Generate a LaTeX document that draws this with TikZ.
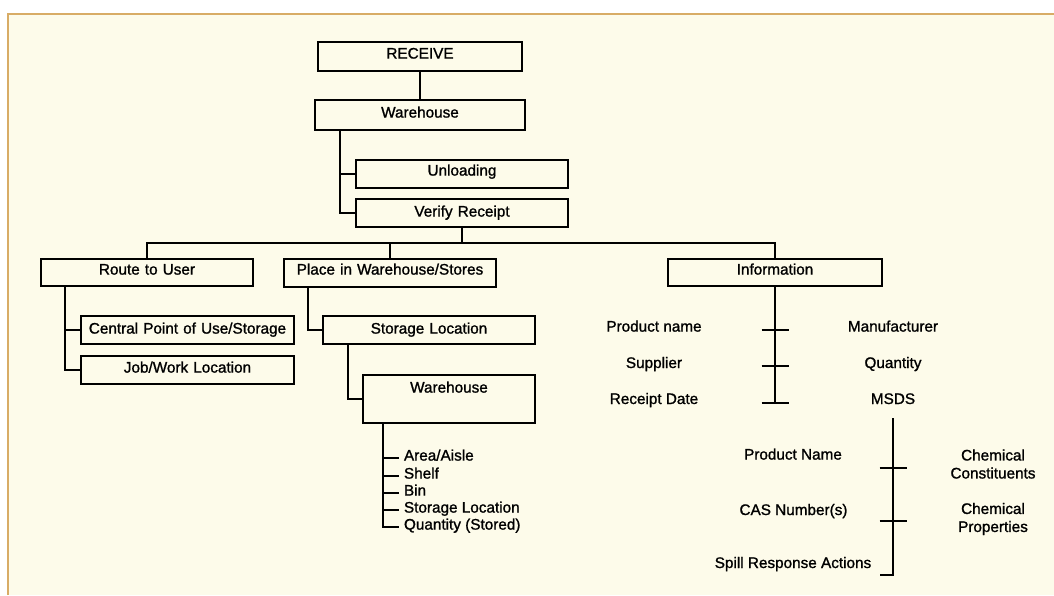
\documentclass[tikz,border=0pt]{standalone}
\usepackage{fontspec}
\setmainfont{Liberation Sans}[FakeBold=1.2]
\definecolor{bgc}{HTML}{FDFBEA}
\definecolor{rimc}{HTML}{D8AC66}
\begin{document}
\begin{tikzpicture}[x=1pt,y=-1pt, line width=2pt,
  every node/.style={font=\fontsize{15.3}{18}\selectfont},
  bx/.style n args={3}{draw, line width=2pt, inner sep=0pt, anchor=north west, align=center, text width=#1, text height=#2, text depth=#3},
  lbl/.style={inner sep=0pt, text height=11.2pt, text depth=3pt, anchor=base},
  lbl2/.style={inner sep=0pt, align=center}]
% background
\useasboundingbox (0,0) rectangle (1054,595);
\fill[white] (0,0) rectangle (1054,595);
\fill[bgc] (7,13) rectangle (1054,595);
\draw[rimc, line width=1.6pt] (7.8,595) -- (7.8,13.8) -- (1054,13.8);
% boxes
\node[bx={204pt}{16.6pt}{12.4pt}] (receive) at (317,41) {RECEIVE};
\node[bx={210pt}{17.6pt}{12.4pt}] (wh) at (314,99) {Warehouse};
\node[bx={212pt}{15.6pt}{12.4pt}] (unl) at (355,159) {Unloading};
\node[bx={212pt}{17.6pt}{10.4pt}] (ver) at (355,198) {Verify Receipt};
\node[bx={212pt}{15.6pt}{11.4pt}] (route) at (40,258) {Route to User};
\node[bx={212pt}{15.6pt}{12.4pt}] (place) at (283,258) {Place in Warehouse/Stores};
\node[bx={214pt}{15.6pt}{11.4pt}] (info) at (667,258) {Information};
\node[bx={213pt}{17.6pt}{10.4pt}] (central) at (80,315) {Central Point of Use/Storage};
\node[bx={213pt}{16.6pt}{11.4pt}] (job) at (80,355) {Job/Work Location};
\node[bx={212pt}{17.6pt}{10.4pt}] (stor) at (322,315) {Storage Location};
\node[bx={172pt}{17.6pt}{30.4pt}] (wh2) at (362,374) {Warehouse};
% connectors of the tree
\draw (receive.south) -- (wh.north);
\draw ([xshift=26pt]wh.south west) |- (unl.west);
\draw ([xshift=26pt]wh.south west) |- (ver.west);
\coordinate (bus) at ([yshift=-15pt]ver.south);
\draw (ver.south) -- (bus);
\draw (route.north) |- (info.north |- bus) -- (info.north);
\draw (place.north) -- (place.north |- bus);
\draw ([xshift=25pt]route.south west) |- (central.west);
\draw ([xshift=25pt]route.south west) |- (job.west);
\draw ([xshift=25pt]place.south west) |- (stor.west);
\draw ([xshift=26pt]stor.south west) |- (wh2.west);
% warehouse items
\node[lbl, anchor=base west] (area) at (403,460.6) {Area/Aisle};
\node[lbl, anchor=base west] (shelf) at (403,478.6) {Shelf};
\node[lbl, anchor=base west] (bin) at (403,495.6) {Bin};
\node[lbl, anchor=base west] (sloc) at (403,512.6) {Storage Location};
\node[lbl, anchor=base west] (qty) at (403,529.6) {Quantity (Stored)};
\draw ([xshift=21pt]wh2.south west) |- ([xshift=-4pt,yshift=-1.5pt]qty.west);
\foreach \n in {area,shelf,bin,sloc}
  \draw ([xshift=-4pt,yshift=-1.5pt]\n.west) -- ++(-16,0);
% information items
\node[lbl] (pname) at (654,331.6) {Product name};
\node[lbl] (sup) at (654,368) {Supplier};
\node[lbl] (rdate) at (654,404) {Receipt Date};
\node[lbl] (man) at (893,331.6) {Manufacturer};
\node[lbl] (qnt) at (893,368) {Quantity};
\node[lbl] (msds) at (893,404) {MSDS};
\draw (info.south) -- ([yshift=-116pt]info.south);
\foreach \d in {43,79,116}
  \draw ([yshift=-\d pt]info.south) +(-13.5,0) -- +(13.5,0);
% MSDS items
\node[lbl] (pname2) at (793,459.6) {Product Name};
\node[lbl] (cas) at (793.5,515) {CAS Number(s)};
\node[lbl] (spill) at (793,568) {Spill Response Actions};
\node[lbl2] (chemc) at (993,464) {Chemical\\Constituents};
\node[lbl2] (chemp) at (993,519) {Chemical\\Properties};
\draw ([yshift=-14pt]msds.base) -- ++(0,157) -- ++(-13,0);
\foreach \d in {64,117}
  \draw ([yshift=-\d pt]msds.base) +(-13.5,0) -- +(13.5,0);
\end{tikzpicture}
\end{document}
